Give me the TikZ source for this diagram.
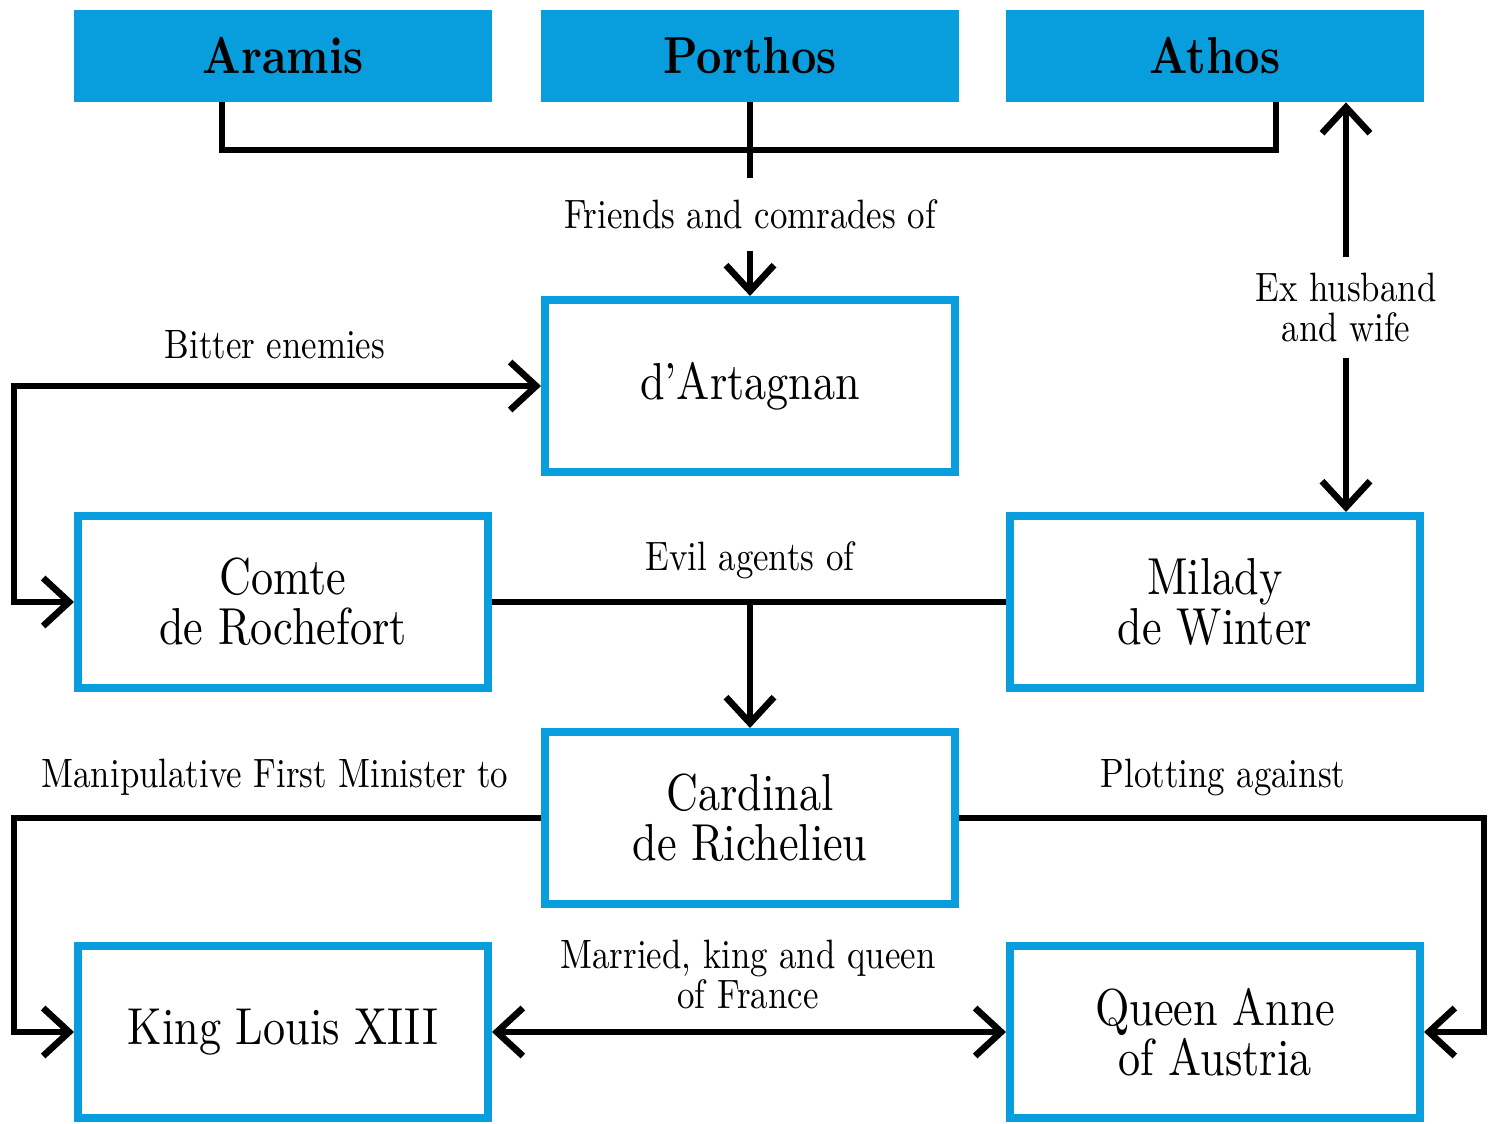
\documentclass[tikz,border=0pt]{standalone}
\usepackage{fontspec}
\setmainfont{lmroman10-regular.otf}[BoldFont=lmroman10-bold.otf, FakeStretch=0.85]
\usetikzlibrary{arrows.meta}
\definecolor{mblue}{RGB}{8,158,222}
\tikzset{
  head/.style={fill=mblue, minimum width=209pt, minimum height=46pt, inner sep=0pt,
    font=\bfseries\fontsize{26}{30}\selectfont},
  person/.style={draw=mblue, line width=4pt, minimum width=205pt, minimum height=86pt,
    align=center, font=\fontsize{26}{25}\selectfont},
  link/.style={line width=3.3pt, >={Straight Barb[length=13pt,width=24pt]}},
  lbl/.style={font=\fontsize{20.5}{20}\selectfont, align=center}
}

\begin{document}
\begin{tikzpicture}[x=0.5pt,y=-0.5pt]
    \useasboundingbox (0,0) rectangle (1501,1124);

    % The three musketeers
    \node[head] (aramis)  at (283,56)  {Aramis};
    \node[head] (porthos) at (750,56)  {Porthos};
    \node[head] (athos)   at (1215,56) {Athos};

    % Characters
    \node[person] (dart)     at (750,386)   {d’Artagnan};
    \node[person] (comte)    at (283,602)   {Comte\\de Rochefort};
    \node[person] (milady)   at (1215,602)  {Milady\\de Winter};
    \node[person] (cardinal) at (750,818)   {Cardinal\\de Richelieu};
    \node[person] (louis)    at (283,1032)  {King Louis XIII};
    \node[person] (anne)     at (1215,1032) {Queen Anne\\of Austria};

    % Helper coordinates for the bends
    \coordinate (fa) at (222,150);
    \coordinate (fb) at (1276,150);
    \coordinate (lf) at (14,0);
    \coordinate (rt) at (1484,0);
    \coordinate (eh) at (1346,0);

    % Friends and comrades of
    \draw[link] (aramis.south -| fa) -- (fa) -- (fb) -- (athos.south -| fb);
    \draw[link,->] (porthos.south) -- (dart.north)
        node[lbl,fill=white,pos=0.58,inner ysep=11pt] (lfr) {Friends and comrades of};

    % Bitter enemies
    \draw[link,<->] (dart.west) -- (dart.west -| lf) |- (comte.west);
    \node[lbl] (lbe) at (275,345) {Bitter enemies};

    % Ex husband and wife
    \draw[link,<->] (athos.south -| eh) -- (milady.north -| eh)
        node[lbl,fill=white,midway,inner ysep=8pt] (lex) {Ex husband\\and wife};

    % Evil agents of
    \draw[link] (comte.east) -- (milady.west);
    \draw[link,->] (cardinal.north |- comte.east) -- (cardinal.north);
    \node[lbl] (lev) at (750,560) {Evil agents of};

    % Manipulative First Minister to
    \draw[link,->] (cardinal.west) -- (cardinal.west -| lf) |- (louis.west);
    \node[lbl] (lma) at (275,777) {Manipulative First Minister to};

    % Plotting against
    \draw[link,->] (cardinal.east) -- (cardinal.east -| rt) |- (anne.east);
    \node[lbl] (lpl) at (1223,777) {Plotting against};

    % Married, king and queen of France
    \draw[link,<->] (louis.east) -- (anne.west);
    \node[lbl] (lma2) at (748,974) {Married, king and queen\\of France};
\end{tikzpicture}
\end{document}
